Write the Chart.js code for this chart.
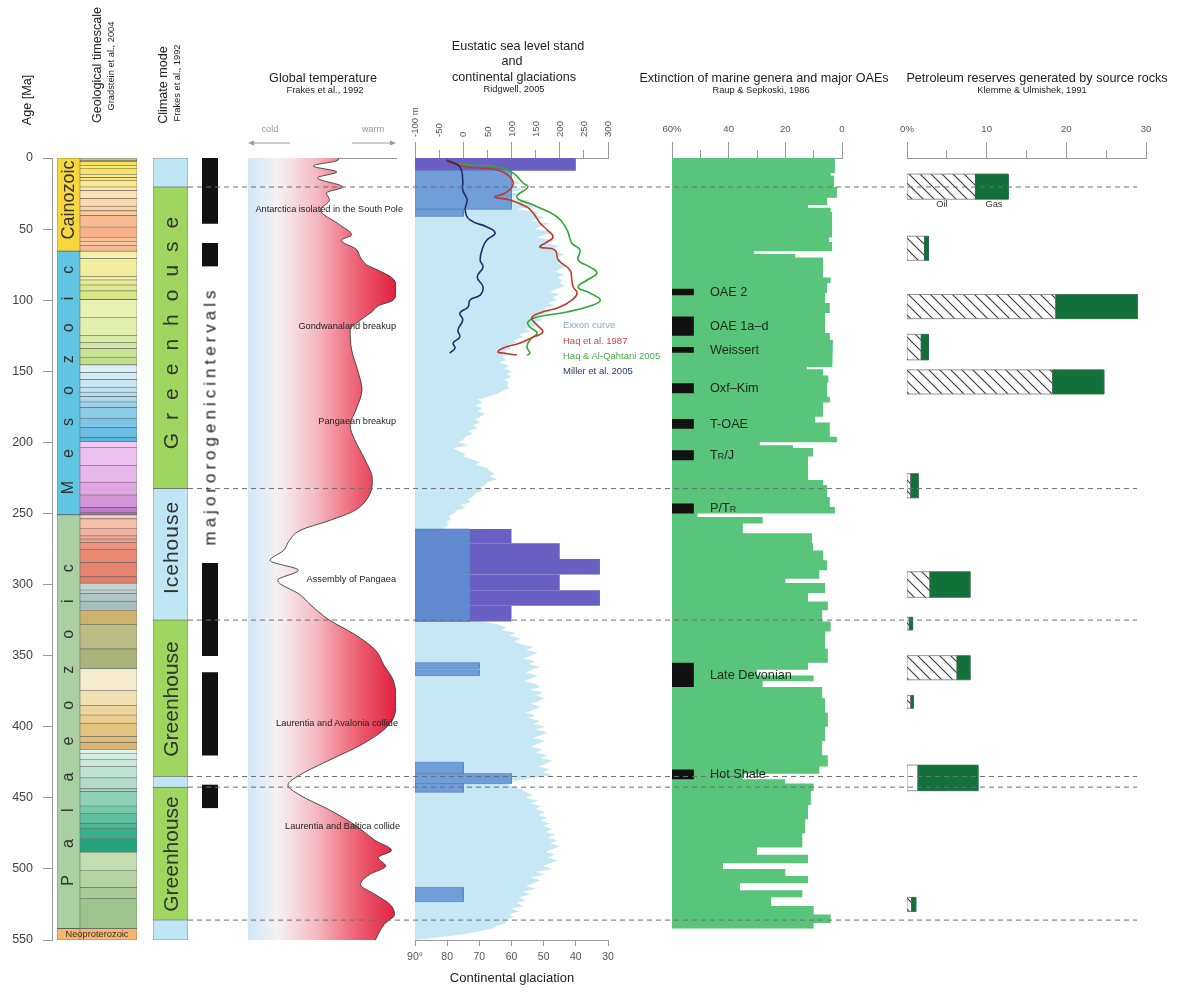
<!DOCTYPE html>
<html>
<head>
<meta charset="utf-8">
<title>Phanerozoic overview</title>
<script src="https://cdn.jsdelivr.net/npm/chart.js@4.4.1/dist/chart.umd.min.js"></script>
<style>
  body { margin: 0; background: #fff; }
  #fig { position: relative; width: 1182px; height: 994px; overflow: hidden; font-family: "Liberation Sans", Arial, sans-serif; color: #222; }
  #fig canvas { position: absolute; top: 0; }
  .t { position: absolute; white-space: nowrap; line-height: 1; }
  .t small { font-size: 70%; }
</style>
</head>
<body>
<div id="fig"></div>
<script>
'use strict';

// ---------- data ----------
const eraNames = ['Cainozoic', 'Mesozoic', 'Palaeozoic', 'Neoproterozoic'];
const eraStart = [0, 65.5, 251, 542];
const eraEnd = [65.5, 251, 542, 550];
const eraColor = ['#f6d83e', '#5fc5e3', '#a9cfa2', '#f8b56b'];

const stageEnd = [1.8, 2.6, 5.3, 7.2, 11.6, 13.8, 16, 20.4, 23, 28.4, 33.9, 37.2, 40.4, 48.6, 55.8, 58.7, 61.7, 65.5,
  70.6, 83.5, 85.8, 89.3, 93.5, 99.6, 112, 125, 130, 133.9, 140.2, 145.5,
  150.8, 155.7, 161.2, 164.7, 167.7, 171.6, 175.6, 183, 189.6, 196.5, 199.6,
  203.6, 216.5, 228, 237, 245.9, 249.5, 251,
  253.8, 260.4, 265.8, 268, 270.6, 275.6, 284.4, 294.6, 299,
  303.9, 306.5, 311.7, 318.1, 328.3, 345.3, 359.2,
  374.5, 385.3, 391.8, 397.5, 407, 411.2, 416,
  418.7, 422.9, 428.2, 436, 443.7,
  445.6, 455.8, 460.9, 468.1, 471.8, 478.6, 488.3,
  501, 513, 521, 542, 550];
const stageColor = ['#c9bd92', '#ddd19c', '#fae35c', '#fbe874', '#fce35e', '#fde986', '#fde37c', '#fde98c', '#fee9a4', '#fde2b6', '#fcdaa9', '#fbd3a3', '#facb9d', '#f8ba91', '#f7b28a', '#fac29a', '#f9c59c', '#f7bc93',
  '#f5f1a6', '#f3ee9e', '#eeef9f', '#e9eb98', '#e1e98c', '#d8e688', '#e7f2b4', '#e2efae', '#dbeca7', '#d3e89e', '#c9e394', '#bfdf8b',
  '#dcf0f8', '#d3ecf6', '#cae7f4', '#c2e3f2', '#b6ddf0', '#abd8ed', '#a0d3eb', '#8ccce9', '#7cc5e6', '#6abde3', '#5cb6e1',
  '#f1c9f3', '#ecc0ef', '#e7b6ea', '#dfa8e3', '#d494da', '#c47dcc', '#b36abf',
  '#f9cdbc', '#f7bea9', '#f5b39e', '#f3a893', '#f09d87', '#ed937d', '#ea8a74', '#e8836e', '#e57d68',
  '#c4d4d0', '#bacdca', '#afc6c4', '#a4bfbd', '#cdb26b', '#bbbc83', '#a9b278',
  '#f4eccc', '#f0e1b1', '#ecd69d', '#e8cd8f', '#e4c381', '#e0bc79', '#dab473',
  '#e3f3ea', '#d7eee3', '#cbe9dc', '#bee3d3', '#b2dcc9',
  '#a7d9c5', '#8fd1b9', '#77c9ac', '#60bf9f', '#4ab895', '#35b08b', '#22a57f',
  '#c3ddb1', '#b5d4a1', '#a9cc96', '#9dc58b', '#f8b56b'];

const climateEnd = [20.4, 232.5, 325, 435, 442.5, 536, 550];
const climateMode = ['ice', 'green', 'ice', 'green', 'ice', 'green', 'ice'];

const orogenStart = [0, 60, 285, 362, 441];
const orogenEnd = [46, 76, 350, 420, 457];

const tempAge = [0, 1.4, 5.6, 9.8, 14, 20.4, 24.6, 29.5, 36.6, 47, 54, 58, 64, 70, 75, 79, 84, 89, 95, 100,
  104, 108, 114, 121, 135, 149, 163, 177, 188, 198, 212, 226, 237, 248, 255, 262, 269, 276, 283, 290,
  297, 307, 314, 325, 335, 346, 357, 367, 381, 392, 402, 413, 423, 434, 441, 448, 459, 469, 480, 487,
  492, 498, 504, 511, 518, 525, 532, 539, 550];
const tempVal = [61, 61, 44, 60, 47, 64, 53, 55, 49, 62, 70, 63, 73, 76, 80, 88, 97, 100, 100, 98,
  88, 84, 76, 69, 70, 74, 77, 73, 69, 72, 79, 84, 82, 72, 55, 35, 28, 24, 15, 34,
  20, 35, 42, 55, 72, 86, 92, 98, 100, 99, 92, 76, 56, 35, 27, 35, 56, 72, 86, 97,
  88, 93, 82, 76, 86, 96, 99, 92, 86];

const exxAge = [0, 2, 4, 6, 8, 10, 12, 14, 16, 18, 20, 22, 24, 26, 28, 30, 32, 34, 36, 38, 40,
  42, 44, 46, 48, 50, 52, 54, 56, 58, 60, 62, 64, 66, 68, 70, 72, 74, 76, 78, 80, 82, 84, 86, 88, 90, 92, 94, 96, 98, 100,
  102, 104, 106, 108, 110, 112, 114, 116, 118, 120, 122, 124, 126, 128, 130, 132, 134, 136, 138, 140, 142, 144, 146, 148, 150, 152, 154, 156, 158, 160,
  162, 164, 166, 168, 170, 172, 174, 176, 178, 180, 182, 184, 186, 188, 190, 192, 194, 196, 198, 200, 202, 204, 206, 208, 210, 212, 214, 216, 218, 220,
  222, 224, 226, 228, 230, 232, 234, 236, 238, 240, 242, 244, 246, 248, 250, 252, 254, 256, 258, 260, 262, 264, 266, 268, 270, 272, 274, 276, 278, 280,
  282, 284, 286, 288, 290, 292, 294, 296, 298, 300, 302, 304, 306, 308, 310, 312, 314, 316, 318, 320, 322, 324, 326, 328, 330, 332, 334, 336, 338, 340,
  342, 344, 346, 348, 350, 352, 354, 356, 358, 360, 362, 364, 366, 368, 370, 372, 374, 376, 378, 380, 382, 384, 386, 388, 390, 392, 394, 396, 398, 400,
  402, 404, 406, 408, 410, 412, 414, 416, 418, 420, 422, 424, 426, 428, 430, 432, 434, 436, 438, 440, 442, 444, 446, 448, 450, 452, 454, 456, 458, 460,
  462, 464, 466, 468, 470, 472, 474, 476, 478, 480, 482, 484, 486, 488, 490, 492, 494, 496, 498, 500, 502, 504, 506, 508, 510, 512, 514, 516, 518, 520,
  522, 524, 526, 528, 530, 532, 534, 536, 538, 540, 542, 544, 546, 548, 550];
const exxSea = [0, 40, 60, 40, 80, 60, 100, 80, 110, 120, 90, 130, 100, 120, 80, 140, 120, 150, 110, 160, 150,
  170, 140, 180, 160, 150, 185, 170, 150, 190, 175, 200, 185, 195, 210, 190, 205, 195, 215, 200, 190, 210, 195, 205, 200, 210, 195, 180, 200, 185, 195,
  175, 190, 165, 180, 160, 150, 165, 145, 155, 130, 140, 115, 125, 105, 110, 90, 100, 85, 95, 80, 90, 75, 95, 85, 100, 90, 100, 85, 95, 90,
  95, 80, 70, 50, 30, 40, 25, 40, 30, 45, 35, 25, 35, 20, 30, 10, 20, 5, 0, -10, 10, -20, -10, 5, 0, 20, 35, 25, 50, 55,
  65, 55, 70, 50, 45, 35, 40, 25, 20, 10, 15, -5, 5, -15, -20, -30, -25, -35, -30, -40, -45, -50, -30, -55, -35, -20, -45, -30, -10, -40,
  -20, -45, -15, -35, -25, -50, -20, -40, -10, -45, -25, -50, -30, -45, -20, -40, -30, -50, -25, -40, -20, -10, 40, 70, 90, 80, 110, 95, 120, 105,
  120, 145, 130, 155, 140, 125, 150, 135, 160, 140, 130, 155, 140, 125, 150, 160, 140, 165, 150, 170, 155, 140, 160, 145, 130, 150, 135, 160, 145, 170,
  150, 175, 160, 145, 170, 155, 140, 165, 150, 175, 160, 185, 170, 155, 180, 165, 185, 140, 110, 90, 100, 120, 130, 145, 130, 155, 140, 160, 150, 170,
  155, 175, 160, 180, 165, 185, 170, 190, 175, 195, 180, 200, 185, 170, 190, 175, 195, 180, 165, 185, 150, 170, 140, 160, 145, 130, 150, 125, 140, 115,
  130, 110, 125, 100, 115, 95, 105, 85, 90, 70, 60, 30, 0, -50, -100];

// glaciation extent, degrees latitude (bottom axis)
const northTop = [0, 261, 271, 282, 293, 304, 315];
const northBase = [9, 271, 282, 293, 304, 315, 326];
const northLat = [40, 60, 45, 32.5, 45, 32.5, 60];
const southTop = [9, 36, 261, 355, 360, 425, 433, 440, 513];
const southBase = [36, 41, 326, 359, 364, 433, 440, 446, 523];
const southLat = [60, 75, 73, 70, 70, 75, 60, 75, 75];

const haq87Age = [2.8, 6.3, 8.4, 13.4, 19, 24.6, 27.4, 29.5, 34.5, 38.7, 45.7, 50.6, 55.6, 59.8, 62.6, 64.7, 71.7, 78.8, 85.8, 90.7, 95, 99.9, 104.8, 109, 112.5, 117.5, 122.4, 125.9, 130.1, 133.6, 136.4, 137.2, 138.6];
const haq87Sea = [-34, 8, 70, 97, 103, 87, 66, 97, 132, 145, 159, 174, 186, 170, 159, 190, 197, 221, 225, 228, 236, 225, 200, 159, 142, 153, 165, 145, 118, 83, 72, 83, 111];
const haq05Age = [3.5, 4.9, 6.3, 10.5, 17.6, 20.4, 27.4, 33.1, 41.5, 50.6, 59.8, 64.7, 71.7, 76.7, 80.9, 85.8, 90.7, 95, 99.9, 103.4, 108.3, 111.8, 115.3, 118.9, 123.1, 128, 132.9, 137.2, 138.6];
const haq05Sea = [-21, 20, 70, 103, 124, 134, 111, 145, 195, 215, 225, 242, 238, 263, 277, 257, 238, 263, 284, 269, 215, 153, 134, 138, 153, 138, 132, 138, 132];
const millerAge = [1.4, 6.3, 15.5, 22.5, 29.5, 36.6, 43.6, 48.5, 52.7, 57.7, 62.6, 71.7, 76.7, 83.7, 90.7, 96.4, 99.9, 104.8, 109, 113.9, 121, 125.9, 130.1, 133.6, 137.2];
const millerSea = [-34, -7, -1, -1, 8, 4, 14, 49, 66, 49, 41, 35, 41, 29, 41, 35, 14, 10, -7, -1, -11, -7, -21, -17, -28];

// extinction of marine genera, % per interval (interval ends listed)
const extEnd = [10.5, 12.5, 20.4, 28, 33, 35, 38, 56, 59, 65.5, 67.5, 70, 84, 88, 95, 102, 109, 123, 128, 133, 147, 148.5, 153, 158, 168, 172, 182, 186, 196, 200,
  202, 204, 210, 226.5, 230, 238.5, 245.5, 250, 252.5, 257, 264, 271, 276, 283, 290, 296, 299, 306, 312, 318, 326, 333, 345, 355, 360,
  364, 368, 372, 380, 390, 400, 410, 420, 428, 433, 437, 440, 445, 455, 465, 475, 485, 490, 496, 500, 505, 510, 515, 520, 526, 532, 538, 542];
const extVal = [2.5, 4, 2.8, 1.8, 5.3, 12, 4, 3.5, 4.6, 3.5, 31, 16.5, 6.7, 4, 5.3, 6, 4.3, 6, 4.3, 3.2, 3.5, 12.4, 6.7, 4.8, 5.3, 4.3, 6.7, 9.5, 4.3, 1.8,
  29, 17.3, 10.2, 12, 6.7, 5.3, 4.3, 2.5, 51, 28, 35, 10.6, 10.2, 6.7, 5.3, 8, 20, 6, 12, 5, 7, 4, 6, 5, 12,
  30, 10, 28, 7, 6, 5, 6, 7, 5, 8, 35, 20, 10, 11, 12, 13, 14, 30, 12, 42, 20, 12, 36, 14, 25, 10, 4, 10];

const oaeNames = ['OAE 2', 'OAE 1a–d', 'Weissert', 'Oxf–Kim', 'T-OAE', 'T<small>R</small>/J', 'P/T<small>R</small>', 'Late Devonian', 'Hot Shale'];
const oaeStart = [92, 111.5, 133, 158.5, 183.5, 205.5, 243, 355, 430];
const oaeEnd = [96.5, 125, 137, 165.5, 190.5, 212.5, 250, 372, 437];

const petroTop = [11.3, 55, 96, 124, 149, 222, 291, 323, 350, 378, 427, 520];
const petroBase = [29, 72, 113, 142, 166, 239, 309, 332, 367, 387, 445, 530];
const petroOil = [8.6, 2.2, 18.7, 1.8, 18.3, 0.5, 2.9, 0.3, 6.3, 0.5, 1.4, 0.6];
const petroGas = [4.1, 0.5, 10.2, 0.9, 6.4, 0.9, 5.0, 0.4, 1.6, 0.3, 7.5, 0.5];
const petroHatched = [1, 1, 1, 1, 1, 1, 1, 1, 1, 1, 0, 1];

const dashAges = [20.4, 232.5, 325, 435, 442.5, 536];

// ---------- layout helpers ----------
const FONT = '"Liberation Sans", Arial, sans-serif';
Chart.defaults.font.family = FONT;
Chart.defaults.color = '#555';
const fig = document.getElementById('fig');
const H = 994, TOP = 158, BOT = 940;
const AXH = 60;      // room kept for a labelled top axis
const AXB = 30;      // room kept for the labelled bottom axis
const AXIS = '#9a9a9a';
const flat = s => { s.height = 0; };

function ageScale() {
  return { type: 'linear', min: 0, max: 550, reverse: true, display: false };
}

// left/right are the chart-area edges in page pixels
function makeChart(left, right, config, pad = {}) {
  const l = pad.l ?? 40, r = pad.r ?? 40;
  const t = pad.t ?? TOP, b = pad.b ?? (H - BOT);
  const cv = document.createElement('canvas');
  const w = right - left + l + r + (pad.axisW || 0);
  cv.width = w; cv.height = H;
  cv.style.left = (left - l - (pad.axisW || 0)) + 'px';
  fig.appendChild(cv);
  config.data.datasets.forEach((d, i) => { d.order = -i; });   // first dataset at the bottom
  config.options = Object.assign({
    responsive: false, animation: false, devicePixelRatio: 1, events: [],
    layout: { padding: { top: t, bottom: b, left: l, right: r } },
    plugins: { legend: { display: false }, tooltip: { enabled: false } }
  }, config.options);
  return new Chart(cv, config);
}

function column(left, right, starts, ends, colors, border) {
  return makeChart(left, right, {
    type: 'bar',
    data: {
      datasets: [{
        data: starts.map((s, i) => ({ x: 'c', y: [s, ends[i]] })),
        backgroundColor: colors,
        borderColor: border || 'rgba(0,0,0,0)',
        borderWidth: border ? 0.6 : 0,
        borderSkipped: false,
        categoryPercentage: 1, barPercentage: 1
      }]
    },
    options: { scales: { x: { type: 'category', labels: ['c'], display: false }, y: ageScale() } }
  });
}

function rect(x0, x1, a, b) {
  return [{ x: x0, y: a }, { x: x1, y: a }, { x: x1, y: b }, { x: x0, y: b }, { x: x0, y: a }];
}
function shape(points, color, axis, border) {
  return {
    data: points, xAxisID: axis, fill: 'shape', backgroundColor: color,
    borderColor: border || 'rgba(0,0,0,0)', borderWidth: border ? 0.8 : 0,
    pointRadius: 0, tension: 0
  };
}
function curve(ages, vals, color, axis) {
  return {
    data: ages.map((a, i) => ({ x: vals[i], y: a })), xAxisID: axis, fill: false,
    borderColor: color, borderWidth: 1.6, pointRadius: 0, tension: 0.45
  };
}
function steps(ends, vals) {
  const pts = [];
  let top = 0;
  ends.forEach((e, i) => { pts.push({ x: vals[i], y: top }, { x: vals[i], y: e }); top = e; });
  return pts;
}
// outer top axis: labels + its own tick marks
function labelAxis(min, max, step, tickLen, ticks, extra) {
  return Object.assign({
    type: 'linear', position: 'top', min, max, weight: 1, afterFit: s => { s.height = AXH; },
    ticks: Object.assign({ stepSize: step, color: '#555', font: { size: 9.6 }, padding: 6 }, ticks),
    grid: { drawOnChartArea: false, tickLength: tickLen, color: AXIS },
    border: { color: AXIS }
  }, extra || {});
}
// inner top axis: tick marks only, no height
function tickAxis(min, max, step, tickLen, extra) {
  return Object.assign({
    type: 'linear', position: 'top', min, max, weight: 0, afterFit: flat,
    ticks: { stepSize: step, display: false },
    grid: { drawOnChartArea: false, tickLength: tickLen, color: AXIS },
    border: { display: false }
  }, extra || {});
}

// ---------- age axis ----------
makeChart(52, 53, {
  type: 'line', data: { datasets: [] },
  options: {
    scales: {
      x: { type: 'linear', display: false },
      y: Object.assign(ageScale(), {
        display: true, position: 'left', afterFit: s => { s.width = 52; },
        ticks: { stepSize: 50, padding: 10, color: '#444', font: { size: 12.5 } },
        grid: { drawOnChartArea: false, tickLength: 9, color: AXIS },
        border: { color: AXIS }
      })
    }
  }
}, { l: 0, r: 2, axisW: 52 });

// ---------- geological timescale ----------
column(57, 80, eraStart, eraEnd, eraColor, '#555');
column(80, 137, [0].concat(stageEnd.slice(0, -1)), stageEnd, stageColor, '#666');

// ---------- climate mode + orogenies ----------
column(153, 188, [0].concat(climateEnd.slice(0, -1)), climateEnd,
  climateMode.map(m => m === 'ice' ? '#bfe6f3' : '#9fd65f'), '#555');
column(202, 218, orogenStart, orogenEnd, '#111');

// ---------- global temperature ----------
makeChart(248, 396, {
  type: 'line',
  data: {
    datasets: [{
      data: tempAge.map((a, i) => ({ x: tempVal[i], y: a })), xAxisID: 'tx',
      fill: { value: 0 },
      backgroundColor: ctx => {
        const a = ctx.chart.chartArea;
        if (!a) return '#f08090';
        const g = ctx.chart.ctx.createLinearGradient(a.left, 0, a.right, 0);
        g.addColorStop(0, '#cfe8f5');
        g.addColorStop(0.2, '#f5f1f4');
        g.addColorStop(0.45, '#f6bcc5');
        g.addColorStop(0.75, '#ec5d70');
        g.addColorStop(1, '#e0203e');
        return g;
      },
      borderColor: '#3a3a3a', borderWidth: 0.9, pointRadius: 0,
      cubicInterpolationMode: 'monotone'
    }]
  },
  options: {
    indexAxis: 'y',
    scales: {
      tx: { type: 'linear', position: 'top', min: 0, max: 100, afterFit: flat,
        ticks: { display: false }, grid: { display: false }, border: { display: true, color: AXIS } },
      y: ageScale()
    }
  }
});

// ---------- sea level and glaciations ----------
const seaSets = [{
  data: exxAge.map((a, i) => ({ x: exxSea[i], y: a })), xAxisID: 'sl',
  fill: { value: -100 }, backgroundColor: '#c6e7f4', borderColor: 'rgba(0,0,0,0)', borderWidth: 0,
  pointRadius: 0, tension: 0
}];
northTop.forEach((t, i) => seaSets.push(shape(rect(90, northLat[i], t, northBase[i]), '#6a60c4', 'lat')));
southTop.forEach((t, i) => seaSets.push(shape(rect(90, southLat[i], t, southBase[i]), 'rgba(95,145,210,0.85)', 'lat', '#5b87c2')));
seaSets.push(curve(haq05Age, haq05Sea, '#2fa836', 'sl'));
seaSets.push(curve(haq87Age, haq87Sea, '#c0392b', 'sl'));
seaSets.push(curve(millerAge, millerSea, '#1f2d6b', 'sl'));

makeChart(415, 608, {
  type: 'line',
  data: { datasets: seaSets },
  options: {
    indexAxis: 'y',
    scales: {
      sl: labelAxis(-100, 300, 50, 8, { minRotation: 90, maxRotation: 90, padding: 13, labelOffset: 12, callback: v => v === -100 ? '-100 m' : v }),
      slMajor: tickAxis(-100, 300, 100, 16),
      lat: {
        type: 'linear', position: 'bottom', min: 30, max: 90, reverse: true, afterFit: s => { s.height = AXB; },
        ticks: { stepSize: 10, padding: 5, color: '#555', font: { size: 10.5 }, callback: v => v === 90 ? '90°' : v },
        grid: { drawOnChartArea: false, tickLength: 6, color: AXIS }, border: { color: AXIS }
      },
      y: ageScale()
    }
  }
}, { t: TOP - AXH, b: H - BOT - AXB });

// ---------- extinction ----------
const extSets = [{
  data: steps(extEnd, extVal), xAxisID: 'ex', fill: { value: 60 },
  backgroundColor: '#59c57b', borderColor: 'rgba(0,0,0,0)', borderWidth: 0, pointRadius: 0, tension: 0
}];
oaeStart.forEach((s, i) => extSets.push(shape(rect(60, 52.3, s, oaeEnd[i]), '#111', 'ex')));
makeChart(672, 842, {
  type: 'line',
  data: { datasets: extSets },
  options: {
    indexAxis: 'y',
    scales: {
      ex: labelAxis(0, 60, 20, 16, { padding: 7, callback: v => v === 60 ? '60%' : v }, { reverse: true }),
      exMinor: tickAxis(0, 60, 10, 8, { reverse: true }),
      y: ageScale()
    }
  }
}, { t: TOP - AXH });

// ---------- petroleum reserves ----------
const hatchTile = document.createElement('canvas');
hatchTile.width = 11; hatchTile.height = 11;
{
  const h = hatchTile.getContext('2d');
  h.fillStyle = '#fff'; h.fillRect(0, 0, 11, 11);
  h.strokeStyle = '#3a3a3a'; h.lineWidth = 1.1;
  h.beginPath();
  h.moveTo(-1, -1); h.lineTo(12, 12);
  h.moveTo(-1, 10); h.lineTo(1, 12);
  h.moveTo(10, -1); h.lineTo(12, 1);
  h.stroke();
}
const hatch = hatchTile.getContext('2d').createPattern(hatchTile, 'repeat');
const petroSets = [];
petroOil.forEach((oil, i) => {
  petroSets.push(shape(rect(0, oil, petroTop[i], petroBase[i]), petroHatched[i] ? hatch : '#fff', 'px', '#777'));
  petroSets.push(shape(rect(oil, oil + petroGas[i], petroTop[i], petroBase[i]), '#12703b', 'px', '#2d6a47'));
});
makeChart(907, 1146, {
  type: 'line',
  data: { datasets: petroSets },
  options: {
    indexAxis: 'y',
    scales: {
      px: labelAxis(0, 30, 10, 16, { padding: 7, callback: v => v === 0 ? '0%' : v }),
      pxMinor: tickAxis(0, 30, 5, 8),
      y: ageScale()
    }
  }
}, { t: TOP - AXH });

// ---------- dashed climate-mode boundaries ----------
makeChart(188, 1137, {
  type: 'line',
  data: {
    datasets: dashAges.map(a => ({
      data: [{ x: 0, y: a }, { x: 1, y: a }], xAxisID: 'dx',
      borderColor: '#6f6f6f', borderWidth: 1, borderDash: [5, 4], pointRadius: 0, fill: false
    }))
  },
  options: { indexAxis: 'y', scales: { dx: { type: 'linear', min: 0, max: 1, display: false }, y: ageScale() } }
});

// ---------- text ----------
function txt(s, x, y, size, o = {}) {
  const d = document.createElement('div');
  d.className = 't';
  d.innerHTML = s;
  d.style.left = x + 'px';
  d.style.top = y + 'px';
  d.style.fontSize = size + 'px';
  if (o.color) d.style.color = o.color;
  if (o.ls) { d.style.letterSpacing = o.ls + 'px'; d.style.paddingLeft = o.ls + 'px'; }
  const ax = o.align === 'right' ? '-100%' : o.align === 'left' ? '0' : '-50%';
  d.style.transform = 'translate(' + ax + ',-50%)' + (o.rot ? ' rotate(-90deg)' : '');
  fig.appendChild(d);
}
const yAge = a => TOP + (BOT - TOP) * a / 550;

txt('Age [Ma]', 27, 100, 12.6, { rot: 1 });
txt('Geological timescale', 97, 65, 12.6, { rot: 1 });
txt('Gradstein et al., 2004', 112, 66, 9.3, { rot: 1 });
txt('Climate mode', 163, 85, 12.6, { rot: 1 });
txt('Frakes et al., 1992', 178, 83, 9.3, { rot: 1 });

txt(eraNames[0], 68, 200, 18, { rot: 1, color: '#333' });
txt(eraNames[1], 68, 380, 16, { rot: 1, color: '#333', ls: 23 });
txt(eraNames[2], 68, 725, 16, { rot: 1, color: '#333', ls: 27 });
txt(eraNames[3], 97, 935, 9.3, { color: '#333' });

txt('Greenhouse', 170, 333, 21, { rot: 1, color: '#333', ls: 13 });
txt('Icehouse', 170, 548, 21, { rot: 1, color: '#333', ls: 1 });
txt('Greenhouse', 170, 699, 21, { rot: 1, color: '#333' });
txt('Greenhouse', 170, 854, 21, { rot: 1, color: '#333' });
txt('majororogenicintervals', 210, 418, 17, { rot: 1, color: '#222', ls: 4 });

txt('Global temperature', 323, 78, 12.6);
txt('Frakes et al., 1992', 325, 91, 9.3);
txt('cold', 270, 130, 9.3, { color: '#9a9a9a' });
txt('warm', 373, 130, 9.3, { color: '#9a9a9a' });
fig.insertAdjacentHTML('beforeend',
  '<svg width="1182" height="994" style="position:absolute;left:0;top:0" xmlns="http://www.w3.org/2000/svg">' +
  '<g stroke="#9a9a9a" stroke-width="1" fill="#9a9a9a">' +
  '<line x1="252" y1="143" x2="290" y2="143"/><path d="M248 143 l6 -2.5 v5 z" stroke="none"/>' +
  '<line x1="352" y1="143" x2="391" y2="143"/><path d="M396 143 l-6 -2.5 v5 z" stroke="none"/>' +
  '</g></svg>');
txt('Antarctica isolated in the South Pole', 403, 210, 9.2, { align: 'right' });
txt('Gondwanaland breakup', 396, 327, 9.2, { align: 'right' });
txt('Pangaean breakup', 396, 422, 9.2, { align: 'right' });
txt('Assembly of Pangaea', 396, 580, 9.2, { align: 'right' });
txt('Laurentia and Avalonia collide', 398, 724, 9.2, { align: 'right' });
txt('Laurentia and Baltica collide', 400, 827, 9.2, { align: 'right' });

txt('Eustatic sea level stand', 518, 46, 12.6);
txt('and', 512, 61, 12.6);
txt('continental glaciations', 514, 77, 12.6);
txt('Ridgwell, 2005', 514, 90, 9.3);
txt('Exxon curve', 563, 325, 9.5, { align: 'left', color: '#86a9d8' });
txt('Haq et al. 1987', 563, 341, 9.5, { align: 'left', color: '#c0493c' });
txt('Haq &amp; Al-Qahtani 2005', 563, 356, 9.5, { align: 'left', color: '#45ad45' });
txt('Miller et al. 2005', 563, 371, 9.5, { align: 'left', color: '#2b3670' });
txt('Continental glaciation', 512, 977, 13);

txt('Extinction of marine genera and major OAEs', 764, 78, 12.6);
txt('Raup &amp; Sepkoski, 1986', 761, 91, 9.3);
oaeNames.forEach((n, i) => txt(n, 710, yAge((oaeStart[i] + oaeEnd[i]) / 2), 12.7, { align: 'left', color: '#1c2a1c' }));

txt('Petroleum reserves generated by source rocks', 1037, 78, 12.6);
txt('Klemme &amp; Ulmishek, 1991', 1032, 91, 9.3);
txt('Oil', 942, 205, 9.3, { color: '#333' });
txt('Gas', 994, 205, 9.3, { color: '#333' });
</script>
</body>
</html>
